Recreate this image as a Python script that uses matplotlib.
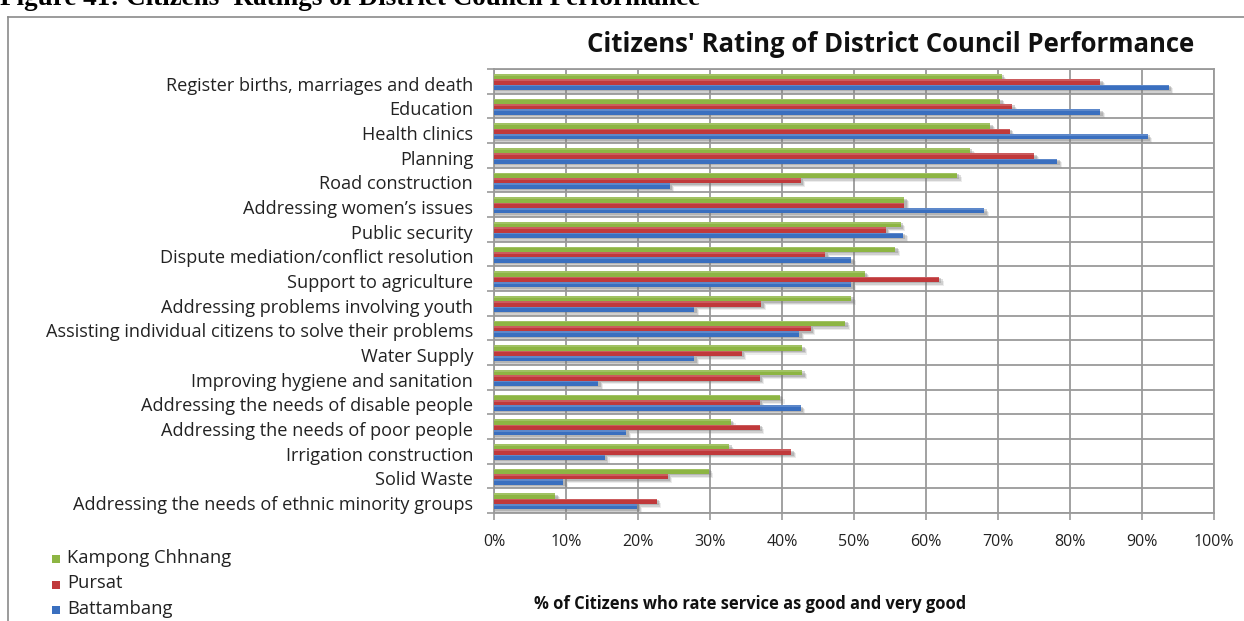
import matplotlib
matplotlib.use("Agg")
import matplotlib.pyplot as plt
from matplotlib.lines import Line2D
from matplotlib.patches import Rectangle
import numpy as np

# Services rated, listed top to bottom
categories = [
    "Register births, marriages and death",
    "Education",
    "Health clinics",
    "Planning",
    "Road construction",
    "Addressing women\u2019s issues",
    "Public security",
    "Dispute mediation/conflict resolution",
    "Support to agriculture",
    "Addressing problems involving youth",
    "Assisting individual citizens to solve their problems",
    "Water Supply",
    "Improving hygiene and sanitation",
    "Addressing the needs of disable people",
    "Addressing the needs of poor people",
    "Irrigation construction",
    "Solid Waste",
    "Addressing the needs of ethnic minority groups",
]

# % of citizens rating each service as good / very good
kampong_chhnang = [70.5, 70.3, 68.9, 66.1, 64.3, 57.0, 56.5, 55.7, 51.5, 49.6,
                   48.8, 42.8, 42.8, 39.7, 32.9, 32.7, 29.8, 8.5]
pursat = [84.2, 72.0, 71.6, 75.0, 42.6, 57.0, 54.4, 46.0, 61.8, 37.1,
          44.0, 34.4, 36.9, 36.9, 36.9, 41.3, 24.1, 22.6]
battambang = [93.7, 84.2, 90.8, 78.2, 24.4, 68.1, 56.8, 49.6, 49.6, 27.8,
              42.4, 27.8, 14.5, 42.6, 18.4, 15.4, 9.6, 19.9]

series_names = ["Kampong Chhnang", "Pursat", "Battambang"]
series_colors = ["#8db543", "#c0393b", "#3a6fbf"]

x_ticks = [0, 10, 20, 30, 40, 50, 60, 70, 80, 90, 100]
x_tick_labels = [f"{t}%" for t in x_ticks]

font = "Open Sans"
W, H = 1244, 621
fig = plt.figure(figsize=(W / 100, H / 100), dpi=100)
fig.patch.set_facecolor("white")

ax = fig.add_axes([494 / W, 1 - 513 / H, (1214 - 494) / W, (513 - 69) / H])

n = len(categories)
idx = np.arange(n)
bar_h = 0.215
starts = [-0.30, -0.085, 0.13]
grid_col = "#9a9a9a"

all_series = [kampong_chhnang, pursat, battambang]

# soft drop shadows below each bar
for s, vals in enumerate(all_series):
    for i, v in enumerate(vals):
        for k, (dy, a) in enumerate([(0.06, 0.32), (0.11, 0.24), (0.16, 0.14)]):
            ax.add_patch(Rectangle((0, i + starts[s] + dy), v + 0.35 + 0.15 * k, bar_h,
                                   facecolor="#7a7a7a", alpha=a, edgecolor="none",
                                   zorder=2))

for s, vals in enumerate(all_series):
    ax.barh(idx + starts[s], vals, height=bar_h, align="edge",
            color=series_colors[s], edgecolor="none", zorder=3)
    # lighter upper strip for a slight sheen
    ax.barh(idx + starts[s], vals, height=bar_h * 0.35, align="edge",
            color="white", alpha=0.18, edgecolor="none", zorder=4)

ax.set_xlim(0, 100)
ax.set_ylim(n - 0.5, -0.5)

ax.set_xticks(x_ticks)
ax.set_xticklabels(x_tick_labels, fontsize=11.5, family=font, color="#222222")
# category names sit slightly below the band centre
ax.set_yticks(idx + 0.1)
ax.set_yticklabels(categories, fontsize=13.1, family=font, color="#222222")
ax.set_yticks(np.arange(n + 1) - 0.5, minor=True)

ax.tick_params(axis="y", which="major", length=0, pad=15)
ax.tick_params(axis="y", which="minor", length=5, width=1.2, color=grid_col, direction="out")
ax.tick_params(axis="x", which="major", length=5, width=1.2, color=grid_col,
               direction="out", pad=10)

ax.grid(True, axis="x", which="major", color=grid_col, linewidth=1.3, zorder=1)
ax.grid(True, axis="y", which="minor", color=grid_col, linewidth=1.3, zorder=1)
ax.set_axisbelow(True)
for sp in ax.spines.values():
    sp.set_color(grid_col)
    sp.set_linewidth(1.3)

# chart heading
fig.text(891 / W, 1 - 45 / H, "Citizens' Rating of District Council Performance",
         ha="center", va="center", fontsize=18.5, fontweight="bold", family=font,
         color="#111111")

# axis caption
fig.text(750 / W, 1 - 604 / H, "% of Citizens who rate service as good and very good",
         ha="center", va="center", fontsize=11.9, fontweight="bold", family=font,
         color="#111111")

# legend
for k, (name, col) in enumerate(zip(series_names, series_colors)):
    yc = 558 + k * 25.5
    fig.patches.append(Rectangle((52 / W, 1 - (yc + 5) / H), 8 / W, 8 / H,
                                 transform=fig.transFigure, facecolor=col,
                                 edgecolor="none"))
    fig.text(67 / W, 1 - yc / H, name, ha="left", va="center", fontsize=13.2,
             family=font, color="#222222")

# document caption above the chart frame
fig.text(0 / W, 1 - 5 / H, "Figure 41: Citizens' Ratings of District Council Performance",
         ha="left", va="baseline", fontsize=19.5, fontweight="bold",
         family="Liberation Serif", color="black")

# chart frame (left and top edges)
fig.lines.append(Line2D([8 / W, 8 / W], [0, 1 - 17 / H], transform=fig.transFigure,
                        color="#8a8a8a", linewidth=1.2))
fig.lines.append(Line2D([8 / W, 1], [1 - 17 / H, 1 - 17 / H], transform=fig.transFigure,
                        color="#8a8a8a", linewidth=1.2))

fig.savefig("out.png", dpi=100, facecolor="white")
